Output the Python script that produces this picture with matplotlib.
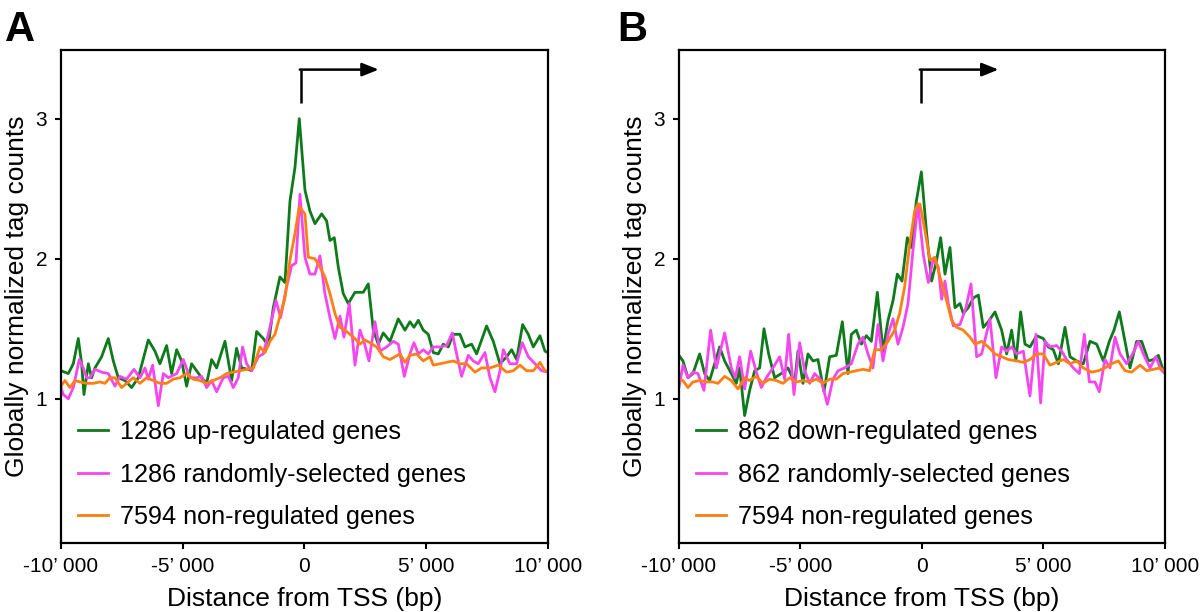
import matplotlib
matplotlib.use("Agg")
import matplotlib.pyplot as plt
from matplotlib.ticker import FixedLocator, FixedFormatter

plt.rcParams['font.family'] = ['Liberation Sans', 'DejaVu Sans']

# ---------------- Panel A data ----------------
a_green_x = [-10000, -9699, -9493, -9288, -9151, -9055, -8877, -8740, -8604, -8330, -8056, -7851, -7645,
             -7371, -7098, -6824, -6413, -6139, -5934, -5660, -5455, -5249, -5044, -4839, -4634, -4428,
             -4223, -4017, -3812, -3607, -3264, -2991, -2786, -2580, -2306, -2169, -1964, -1690, -1485,
             -1280, -1006, -800, -595, -390, -212, 21, 226, 432, 706, 911, 1048, 1226, 1390, 1595, 1801,
             2075, 2417, 2622, 2828, 3033, 3238, 3512, 3854, 4128, 4333, 4498, 4676, 4881, 5086, 5292,
             5497, 5702, 5908, 6113, 6387, 6592, 6866, 7071, 7482, 7756, 8030, 8304, 8509, 8714, 8961,
             9194, 9399, 9673, 9878, 10000]
a_green_y = [1.20, 1.18, 1.25, 1.43, 1.25, 1.03, 1.25, 1.15, 1.22, 1.30, 1.43, 1.27, 1.15,
             1.13, 1.08, 1.15, 1.42, 1.34, 1.25, 1.38, 1.18, 1.35, 1.27, 1.09, 1.25, 1.20,
             1.15, 1.11, 1.28, 1.22, 1.41, 1.13, 1.36, 1.22, 1.21, 1.20, 1.48, 1.43, 1.38,
             1.65, 1.87, 1.83, 2.41, 2.65, 3.00, 2.49, 2.34, 2.25, 2.32, 2.27, 2.13, 2.15, 1.94, 1.75, 1.68,
             1.76, 1.76, 1.82, 1.49, 1.39, 1.47, 1.41, 1.57, 1.49, 1.55, 1.51, 1.56, 1.49, 1.46, 1.33,
             1.32, 1.39, 1.37, 1.46, 1.46, 1.37, 1.39, 1.32, 1.52, 1.41, 1.25, 1.30, 1.35, 1.28, 1.53,
             1.46, 1.37, 1.45, 1.34, 1.33]

a_pink_x = [-10000, -9904, -9699, -9493, -9247, -9083, -8946, -8809, -8604, -8330, -8056, -7782, -7577,
            -7303, -7002, -6756, -6550, -6413, -6235, -6002, -5797, -5592, -5249, -4976, -4702, -4428,
            -4223, -4017, -3812, -3607, -3333, -3128, -2923, -2717, -2539, -2375, -2169, -1896, -1690,
            -1444, -1170, -978, -732, -526, -348, -184, 21, 226, 432, 637, 842, 1048, 1253, 1459, 1623,
            1842, 2075, 2280, 2444, 2650, 2896, 3101, 3375, 3649, 3854, 4101, 4333, 4498, 4676, 4881,
            5086, 5292, 5566, 5839, 6072, 6250, 6455, 6729, 6935, 7140, 7414, 7619, 7824, 8030, 8167,
            8440, 8714, 8947, 9194, 9468, 9741, 10000]
a_pink_y = [1.08, 1.03, 1.00, 1.08, 1.28, 1.22, 1.15, 1.15, 1.21, 1.19, 1.18, 1.09, 1.16,
            1.14, 1.21, 1.15, 1.22, 1.14, 1.24, 0.95, 1.18, 1.15, 1.18, 1.28, 1.15, 1.15,
            1.16, 1.08, 1.13, 1.05, 1.15, 1.16, 1.08, 1.15, 1.37, 1.25, 1.20, 1.30, 1.32,
            1.49, 1.70, 1.58, 1.80, 1.95, 1.97, 2.46, 2.01, 1.89, 1.89, 2.02, 1.75, 1.58, 1.43, 1.59, 1.44,
            1.68, 1.24, 1.49, 1.41, 1.27, 1.55, 1.34, 1.37, 1.41, 1.39, 1.16, 1.32, 1.40, 1.32, 1.35,
            1.32, 1.37, 1.37, 1.38, 1.47, 1.32, 1.16, 1.31, 1.27, 1.25, 1.33, 1.15, 1.05, 1.20, 1.35,
            1.25, 1.25, 1.40, 1.30, 1.25, 1.20, 1.19]

a_orange_x = [-10000, -9836, -9630, -9425, -9220, -8946, -8672, -8398, -8193, -7988, -7782, -7508, -7303,
              -7029, -6756, -6482, -6208, -5934, -5660, -5387, -5113, -4839, -4565, -4291, -4017, -3743,
              -3470, -3196, -2923, -2649, -2375, -2101, -1827, -1622, -1417, -1211, -1006, -800, -595,
              -390, -212, 21, 158, 432, 637, 842, 1048, 1253, 1459, 1664, 1869, 2075, 2280, 2485, 2690,
              2964, 3238, 3512, 3717, 3923, 4128, 4333, 4607, 4881, 5155, 5292, 5566, 5839, 6113, 6387,
              6661, 7003, 7277, 7619, 7961, 8304, 8578, 8851, 9125, 9399, 9673, 9878, 10000]
a_orange_y = [1.09, 1.13, 1.08, 1.13, 1.12, 1.11, 1.11, 1.12, 1.11, 1.15, 1.15, 1.08, 1.11,
              1.15, 1.11, 1.15, 1.13, 1.11, 1.11, 1.14, 1.15, 1.18, 1.14, 1.13, 1.11, 1.13,
              1.15, 1.18, 1.19, 1.20, 1.21, 1.22, 1.37, 1.33, 1.41, 1.46, 1.59, 1.72, 1.99,
              2.18, 2.37, 2.32, 2.01, 2.00, 1.94, 1.87, 1.75, 1.61, 1.51, 1.49, 1.46, 1.43, 1.39, 1.42, 1.40,
              1.37, 1.30, 1.28, 1.30, 1.32, 1.26, 1.31, 1.32, 1.27, 1.30, 1.24, 1.25, 1.26, 1.27, 1.25,
              1.25, 1.19, 1.22, 1.22, 1.24, 1.19, 1.20, 1.24, 1.20, 1.20, 1.26, 1.20, 1.20]

# ---------------- Panel B data ----------------
b_green_x = [-10000, -9835, -9629, -9424, -9149, -8943, -8738, -8532, -8326, -8120, -7846, -7640, -7503,
             -7297, -7091, -6885, -6680, -6501, -6309, -6062, -5788, -5513, -5239, -5102, -4896, -4691,
             -4485, -4279, -4032, -3798, -3524, -3277, -3044, -2907, -2701, -2495, -2289, -2083, -1836,
             -1603, -1397, -1191, -1013, -821, -602, -437, -231, -25, 192, 398, 604, 768, 947, 1152,
             1358, 1564, 1701, 1907, 2113, 2319, 2524, 2730, 3005, 3279, 3485, 3691, 3869, 4061, 4239,
             4445, 4720, 4994, 5200, 5406, 5611, 5886, 6092, 6366, 6640, 6915, 7189, 7464, 7711, 7903,
             8122, 8355, 8561, 8836, 9041, 9316, 9522, 9727, 9933, 10000]
b_green_y = [1.31, 1.27, 1.15, 1.18, 1.32, 1.18, 1.13, 1.25, 1.37, 1.27, 1.18, 1.11, 1.22,
             0.88, 1.06, 1.20, 1.22, 1.50, 1.32, 1.15, 1.18, 1.22, 1.12, 1.34, 1.11, 1.32,
             1.27, 1.28, 1.05, 1.30, 1.31, 1.55, 1.18, 1.46, 1.49, 1.39, 1.45, 1.41, 1.76,
             1.34, 1.56, 1.70, 1.89, 1.84, 2.15, 2.08, 2.41, 2.62, 2.18, 1.84, 1.99, 2.15, 1.89, 2.08,
             1.65, 1.68, 1.61, 1.65, 1.72, 1.74, 1.51, 1.55, 1.62, 1.49, 1.32, 1.49, 1.27, 1.62, 1.39,
             1.37, 1.45, 1.43, 1.37, 1.35, 1.25, 1.51, 1.30, 1.27, 1.25, 1.41, 1.39, 1.27, 1.41, 1.49,
             1.62, 1.41, 1.22, 1.41, 1.41, 1.27, 1.28, 1.31, 1.20, 1.19]

b_pink_x = [-10000, -9835, -9629, -9424, -9218, -8971, -8697, -8463, -8120, -7846, -7681, -7503, -7297,
            -7050, -6817, -6611, -6405, -6131, -5856, -5651, -5486, -5267, -5033, -4827, -4622, -4416,
            -4141, -3894, -3661, -3455, -3181, -2907, -2633, -2427, -2221, -2015, -1809, -1603, -1397,
            -1191, -986, -780, -574, -369, -163, 55, 261, 466, 672, 809, 947, 1084, 1290, 1564, 1811,
            2017, 2250, 2456, 2799, 3046, 3279, 3485, 3691, 3896, 4171, 4445, 4692, 4884, 5063, 5268,
            5543, 5749, 5954, 6229, 6476, 6682, 6888, 7121, 7299, 7532, 7738, 7944, 8150, 8424, 8698,
            8904, 9110, 9384, 9631, 9823, 10000]
b_pink_y = [1.08, 1.24, 1.15, 1.19, 1.18, 1.06, 1.49, 1.22, 1.47, 1.22, 1.15, 1.30, 1.07,
            1.34, 1.19, 1.08, 1.15, 1.22, 1.30, 1.14, 1.46, 1.03, 1.40, 1.20, 1.11, 1.18,
            1.13, 0.96, 1.14, 1.20, 1.22, 1.25, 1.39, 1.44, 1.32, 1.22, 1.53, 1.27, 1.46,
            1.57, 1.39, 1.51, 1.68, 2.06, 2.39, 2.03, 1.83, 2.00, 1.94, 1.71, 1.84, 1.68, 1.52, 1.53, 1.65,
            1.82, 1.30, 1.32, 1.57, 1.15, 1.37, 1.34, 1.37, 1.32, 1.34, 1.02, 1.46, 0.97, 1.41, 1.37,
            1.38, 1.34, 1.28, 1.22, 1.18, 1.46, 1.12, 1.12, 1.05, 1.28, 1.22, 1.44, 1.32, 1.25, 1.33,
            1.41, 1.32, 1.22, 1.30, 1.21, 1.18]

b_orange_x = [-10000, -9835, -9629, -9424, -9149, -8875, -8600, -8395, -8120, -7846, -7571, -7297, -7091,
              -6817, -6541, -6268, -5994, -5719, -5445, -5170, -4896, -4622, -4347, -4073, -3798, -3524,
              -3250, -2975, -2701, -2426, -2152, -1946, -1672, -1397, -1123, -917, -712, -506, -300,
              -163, -82, 123, 329, 535, 741, 1015, 1221, 1427, 1701, 1976, 2181, 2456, 2730, 3005, 3279,
              3553, 3896, 4171, 4445, 4720, 4994, 5268, 5543, 5817, 6092, 6366, 6640, 6983, 7258, 7532,
              7807, 8081, 8355, 8630, 8973, 9248, 9522, 9796, 10000]
b_orange_y = [1.13, 1.13, 1.08, 1.12, 1.13, 1.12, 1.12, 1.11, 1.16, 1.13, 1.07, 1.15, 1.13,
              1.16, 1.11, 1.14, 1.13, 1.11, 1.15, 1.12, 1.13, 1.12, 1.14, 1.11, 1.14, 1.14,
              1.18, 1.19, 1.20, 1.21, 1.20, 1.35, 1.35, 1.41, 1.49, 1.61, 1.80, 2.10, 2.34,
              2.39, 2.39, 2.20, 1.99, 2.01, 1.87, 1.70, 1.56, 1.51, 1.49, 1.44, 1.39, 1.41, 1.37, 1.32, 1.30,
              1.28, 1.27, 1.26, 1.28, 1.32, 1.32, 1.24, 1.26, 1.28, 1.25, 1.27, 1.22, 1.19, 1.20, 1.22,
              1.25, 1.27, 1.20, 1.19, 1.24, 1.20, 1.21, 1.22, 1.20]

a_labels = ['1286 up-regulated genes', '1286 randomly-selected genes', '7594 non-regulated genes']
b_labels = ['862 down-regulated genes', '862 randomly-selected genes', '7594 non-regulated genes']

x_ticks = [-10000, -5000, 0, 5000, 10000]
x_ticklabels = ['-10\u2019 000', '-5\u2019 000', '0', '5\u2019 000', '10\u2019 000']
y_ticks = [1, 2, 3]
y_ticklabels = ['1', '2', '3']

colors = ['#0e7a1c', '#f546f0', '#ff7f12']

fig = plt.figure(figsize=(12, 6.12), dpi=100)
axA = fig.add_axes([0.0508, 0.1127, 0.4058, 0.8056])
axB = fig.add_axes([0.5658, 0.1127, 0.4050, 0.8056])


def style(ax, series, labels, arrow_x, arrow_tip):
    for (xs, ys), c, lab in zip(series, colors, labels):
        ax.plot(xs, ys, color=c, lw=2.0, label=lab, solid_joinstyle='round')
    ax.set_xlim(-10000, 10000)
    ax.set_ylim(-0.03, 3.49)
    ax.xaxis.set_major_locator(FixedLocator(x_ticks))
    ax.xaxis.set_major_formatter(FixedFormatter(x_ticklabels))
    ax.yaxis.set_major_locator(FixedLocator(y_ticks))
    ax.yaxis.set_major_formatter(FixedFormatter(y_ticklabels))
    ax.tick_params(axis='both', direction='out', length=4, width=1.5, labelsize=15, pad=6)
    for sp in ax.spines.values():
        sp.set_linewidth(1.6)
    ax.set_xlabel('Distance from TSS (bp)', fontsize=19, labelpad=8)
    ax.set_ylabel('Globally normalized tag counts', fontsize=19, labelpad=5)
    # TSS arrow
    ax.plot([arrow_x, arrow_x], [3.11, 3.35], color='black', lw=1.8, solid_capstyle='butt')
    ax.annotate('', xy=(arrow_tip, 3.35), xytext=(arrow_x - 40, 3.35),
                arrowprops=dict(arrowstyle='-|>,head_length=1.0,head_width=0.4',
                                color='black', lw=1.8, shrinkA=0, shrinkB=0))
    leg = ax.legend(loc='lower left', bbox_to_anchor=(0.035, 0.028), frameon=False,
                    fontsize=18.2, handlelength=1.2, handletextpad=0.47, labelspacing=0.73,
                    borderaxespad=0, borderpad=0)
    for h in leg.get_lines():
        h.set_linewidth(2.0)


style(axA, [(a_green_x, a_green_y), (a_pink_x, a_pink_y), (a_orange_x, a_orange_y)], a_labels, -150, 3050)
style(axB, [(b_green_x, b_green_y), (b_pink_x, b_pink_y), (b_orange_x, b_orange_y)], b_labels, -50, 3150)

fig.text(0.004, 0.983, 'A', fontsize=30, fontweight='bold', va='top', ha='left')
fig.text(0.514, 0.983, 'B', fontsize=30, fontweight='bold', va='top', ha='left')

fig.savefig('out.png', dpi=100)
